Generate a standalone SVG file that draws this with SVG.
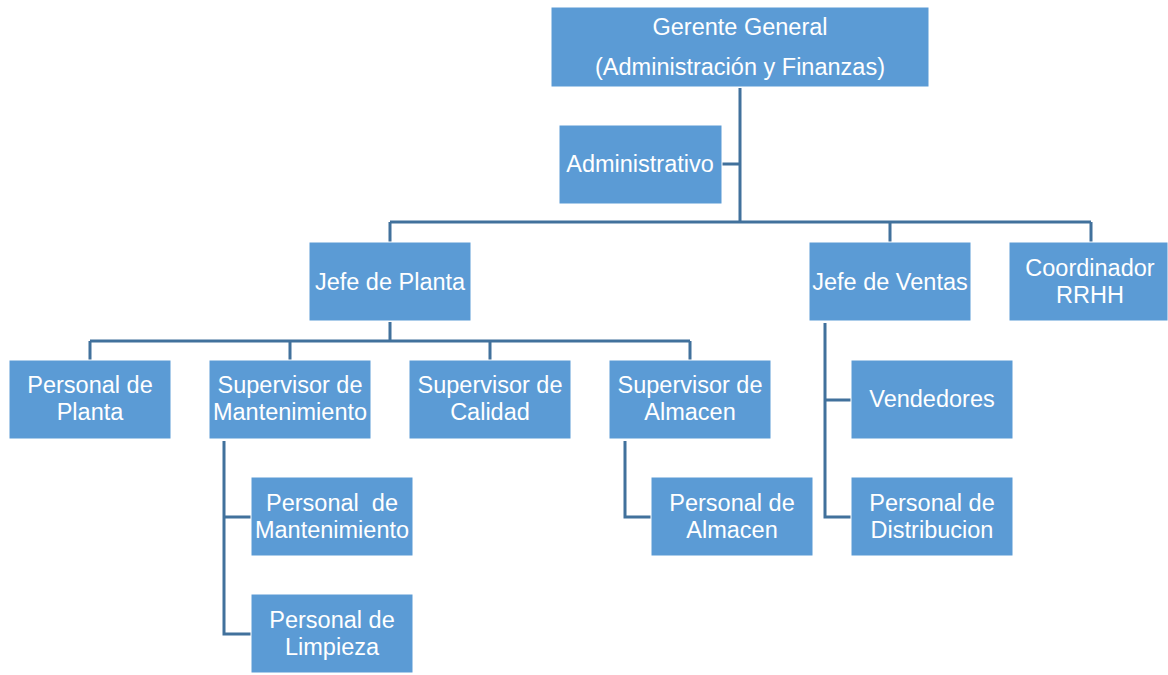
<svg xmlns="http://www.w3.org/2000/svg" width="1168" height="675" viewBox="0 0 1168 675">
<style>
.box{fill:#5B9BD5;stroke:#FFFFFF;stroke-width:1}
.t{font-family:"Liberation Sans",Arial,sans-serif;font-size:23.5px;fill:#FFFFFF;text-anchor:middle}
.c{fill:none;stroke:#41719C;stroke-width:3}
</style>
<rect width="1168" height="675" fill="#FFFFFF"/>
<g id="connectors">
<path class="c" d="M740 88V222M722 164H740M390 222H1091M390 222V242M890 222V242M1091 222V242"/>
<path class="c" d="M390 322V341M90 341H690M90 341V360M290 341V360M490 341V360M690 341V360"/>
<path class="c" d="M224 441V634H251M224 517H251"/>
<path class="c" d="M625 441V517H651"/>
<path class="c" d="M825 323V517H851M825 400H851"/>
</g>
<g id="gerente"><rect class="box" x="551" y="7" width="378" height="80"/><text class="t" x="740" y="35">Gerente General</text><text class="t" x="740" y="75">(Administración y Finanzas)</text></g>
<g id="administrativo"><rect class="box" x="559" y="125" width="163" height="79"/><text class="t" x="640" y="172">Administrativo</text></g>
<g id="jefe-planta"><rect class="box" x="309" y="242" width="162" height="79"/><text class="t" x="390" y="290">Jefe de Planta</text></g>
<g id="jefe-ventas"><rect class="box" x="809" y="242" width="162" height="79"/><text class="t" x="890" y="290">Jefe de Ventas</text></g>
<g id="coordinador"><rect class="box" x="1009" y="242" width="159" height="79"/><text class="t" x="1090" y="276">Coordinador</text><text class="t" x="1090" y="303">RRHH</text></g>
<g id="personal-planta"><rect class="box" x="9" y="360" width="162" height="79"/><text class="t" x="90" y="393">Personal de</text><text class="t" x="90" y="420">Planta</text></g>
<g id="sup-mant"><rect class="box" x="209" y="360" width="162" height="79"/><text class="t" x="290" y="393">Supervisor de</text><text class="t" x="290" y="420">Mantenimiento</text></g>
<g id="sup-calidad"><rect class="box" x="409" y="360" width="162" height="79"/><text class="t" x="490" y="393">Supervisor de</text><text class="t" x="490" y="420">Calidad</text></g>
<g id="sup-almacen"><rect class="box" x="609" y="360" width="162" height="79"/><text class="t" x="690" y="393">Supervisor de</text><text class="t" x="690" y="420">Almacen</text></g>
<g id="vendedores"><rect class="box" x="851" y="360" width="162" height="79"/><text class="t" x="932" y="407">Vendedores</text></g>
<g id="personal-mant"><rect class="box" x="251" y="477" width="162" height="79"/><text class="t" x="332" y="511" xml:space="preserve">Personal  de</text><text class="t" x="332" y="538">Mantenimiento</text></g>
<g id="personal-almacen"><rect class="box" x="651" y="477" width="162" height="79"/><text class="t" x="732" y="511">Personal de</text><text class="t" x="732" y="538">Almacen</text></g>
<g id="personal-dist"><rect class="box" x="851" y="477" width="162" height="79"/><text class="t" x="932" y="511">Personal de</text><text class="t" x="932" y="538">Distribucion</text></g>
<g id="personal-limpieza"><rect class="box" x="251" y="594" width="162" height="79"/><text class="t" x="332" y="628">Personal de</text><text class="t" x="332" y="655">Limpieza</text></g>
</svg>
